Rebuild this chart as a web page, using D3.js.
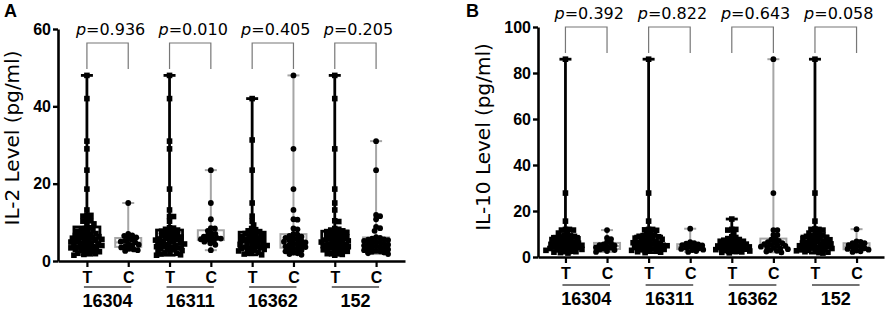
<!DOCTYPE html>
<html>
<head>
<meta charset="utf-8">
<script src="https://cdn.jsdelivr.net/npm/d3@7/dist/d3.min.js"></script>
<style>
  body { margin: 0; background: #fff; }
  svg { display: block; font-family: "Liberation Sans", Arial, sans-serif; }
</style>
</head>
<body>
<div id="chart"></div>
<script>
// groups on the x axis, each has a T and a C column
var groups = ["16304", "16311", "16362", "152"];
var arms = ["T", "C"];

// IL-2 (pg/ml), panel A
var il2_16304_T = [48, 42, 31, 29, 23.5, 18.6, 13.2, 11.8, 11.8, 11.6, 10.5, 10.4, 10.3, 9.6, 9.4, 8.6, 8.4, 8.2, 7.9, 7.7, 7.5, 7.3, 7.1, 6.9, 6.8, 6.6, 6.4, 6.3, 6.1, 6, 5.9, 5.7, 5.6, 5.4, 5.3, 5.1, 5, 4.9, 4.7, 4.6, 4.4, 4.3, 4.1, 4, 3.9, 3.7, 3.6, 3.4, 3.3, 3.1, 3, 2.9, 2.7, 2.5, 2.4, 2.2, 2, 1.9, 1.7, 1.5];
var il2_16304_C = [15, 7, 6.6, 6.5, 6.1, 5.8, 5.5, 5.2, 5, 4.8, 4.5, 4.2, 4, 3.8, 3.5, 3.2, 3, 2.8, 2.6];
var il2_16311_T = [48, 42, 31, 29, 18.6, 13.2, 11.5, 11.5, 10.3, 8.6, 8.5, 8.2, 8, 7.7, 7.5, 7.2, 7, 6.8, 6.6, 6.4, 6.2, 6, 5.9, 5.7, 5.5, 5.4, 5.2, 5, 4.9, 4.7, 4.5, 4.4, 4.2, 4, 3.9, 3.7, 3.5, 3.4, 3.2, 3, 2.9, 2.7, 2.5, 2.3, 2.1, 2, 1.8, 1.6, 1.5];
var il2_16311_C = [23.5, 15, 10.8, 8.5, 8.4, 7.8, 7.2, 7, 6.6, 6.3, 6.1, 6, 5.8, 5.6, 5.5, 5.2, 5, 4.6, 4.2, 2.8];
var il2_16362_T = [42, 31.3, 23.5, 15, 11.6, 10.3, 9.3, 8.4, 8.1, 7.8, 7.6, 7.3, 7.1, 6.9, 6.7, 6.5, 6.3, 6.1, 5.9, 5.7, 5.5, 5.3, 5.2, 5, 4.8, 4.6, 4.5, 4.3, 4.1, 4, 3.8, 3.6, 3.5, 3.3, 3.1, 3, 2.8, 2.6, 2.4, 2.2, 2, 1.8, 1.6];
var il2_16362_C = [48, 29, 18.6, 13.2, 10.8, 10.7, 8.4, 8.2, 7, 6.8, 6.5, 6.3, 6, 5.8, 5.6, 5.4, 5.2, 5, 4.8, 4.6, 4.4, 4.2, 4, 3.8, 3.6, 3.4, 3.2, 3, 2.8, 2.5, 2.2, 2, 1.8, 1.6];
var il2_152_T = [48, 42, 29, 18.6, 15, 13.2, 10.4, 10.2, 8.4, 8.2, 8, 7.8, 7.6, 7.4, 7.2, 7, 6.8, 6.6, 6.4, 6.2, 6, 5.9, 5.7, 5.5, 5.4, 5.2, 5, 4.9, 4.7, 4.5, 4.4, 4.2, 4, 3.9, 3.7, 3.5, 3.4, 3.2, 3, 2.9, 2.7, 2.5, 2.3, 2.1, 1.9, 1.7, 1.5];
var il2_152_C = [31, 23.5, 11.9, 11.6, 10.8, 8.8, 8.5, 7.8, 6.2, 6, 5.8, 5.6, 5.5, 5.4, 5.2, 5, 4.8, 4.6, 4.5, 4.3, 4.2, 4, 3.8, 3.6, 3.5, 3.4, 3.2, 3, 2.8, 2.6, 2.5, 2.4, 2.2, 2, 1.8];

// IL-10 (pg/ml), panel B
var il10_16304_T = [86, 27.8, 15.6, 12, 12, 11.7, 11.7, 10.4, 10.4, 9.5, 9.2, 9, 8.7, 8.4, 8.2, 7.9, 7.6, 7.4, 7.1, 6.9, 6.6, 6.4, 6.2, 6, 5.7, 5.5, 5.3, 5.1, 4.9, 4.7, 4.5, 4.3, 4.1, 3.9, 3.7, 3.5, 3.3, 3.1, 2.9, 2.7, 2.5, 2.3, 2.1, 1.9, 1.7];
var il10_16304_C = [11.7, 8.3, 7.8, 6.5, 6, 5.5, 5.2, 5, 4.5, 4.2, 4, 3.6, 3.2, 3, 2.6, 2.2];
var il10_16311_T = [86, 27.8, 15.6, 12, 12, 11.8, 11.6, 10.4, 10.2, 9.6, 9.3, 9, 8.8, 8.5, 8.2, 8, 7.7, 7.4, 7.2, 6.9, 6.7, 6.4, 6.2, 6, 5.7, 5.5, 5.3, 5.1, 4.9, 4.7, 4.5, 4.3, 4.1, 3.9, 3.7, 3.5, 3.3, 3.1, 2.9, 2.7, 2.5, 2.3, 2.1, 1.9];
var il10_16311_C = [12.3, 6.5, 6, 5.8, 5.5, 5.2, 5, 4.6, 4.3, 4, 3.8, 3.5, 3.2, 3, 2.6, 2.2];
var il10_16362_T = [16.5, 12, 12, 11.7, 10.4, 8.8, 8.5, 8, 7.6, 7.3, 7, 6.7, 6.4, 6.1, 5.9, 5.6, 5.4, 5.2, 5, 4.8, 4.6, 4.4, 4.2, 4, 3.8, 3.6, 3.4, 3.2, 3, 2.8, 2.6, 2.4, 2.2, 2, 1.8];
var il10_16362_C = [86, 27.8, 11.7, 11.7, 9.6, 9.6, 8, 7.5, 7, 6.5, 6.2, 6, 5.6, 5.3, 5, 4.8, 4.5, 4.2, 4, 3.7, 3.4, 3, 2.7, 2.4, 2];
var il10_152_T = [86, 27.8, 15.6, 12.2, 12, 12, 11.7, 10.4, 10.4, 10.2, 9.5, 9.2, 9, 8.7, 8.5, 8.2, 8, 7.7, 7.5, 7.2, 7, 6.8, 6.5, 6.3, 6.1, 5.9, 5.7, 5.5, 5.3, 5.1, 4.9, 4.7, 4.5, 4.3, 4.1, 3.9, 3.7, 3.5, 3.3, 3.1, 2.9, 2.7, 2.5, 2.3, 2.1, 1.9, 1.7];
var il10_152_C = [12.1, 6.8, 6.6, 6, 6, 5.2, 4.8, 4.5, 4.2, 3.8, 3.5, 3.2, 2.8, 2.5, 2.2];

var il2_p = ["0.936", "0.010", "0.405", "0.205"];
var il10_p = ["0.392", "0.822", "0.643", "0.058"];
var il2_ticks = [0, 20, 40, 60];
var il10_ticks = [0, 20, 40, 60, 80, 100];

var wideFont = "DejaVu Sans";

var svg = d3.select("#chart").append("svg")
    .attr("width", 886)
    .attr("height", 310);

function swarm(vals, y, d) {
    // simple beeswarm: push each point sideways until it clears the ones placed before
    var placed = [];
    return vals.map(function(v) {
        var py = y(v), off = 0;
        for (var k = 0; k < 400; k++) {
            off = (k % 2 ? 1 : -1) * Math.ceil(k / 2) * 0.5;
            var hit = placed.some(function(p) {
                return (p[0] - off) * (p[0] - off) + (p[1] - py) * (p[1] - py) < d * d;
            });
            if (!hit) break;
        }
        placed.push([off, py]);
        return [off, py];
    });
}

function panel(opt) {
    var g = svg.append("g");

    var keys = [];
    groups.forEach(function(gr) { arms.forEach(function(a) { keys.push(gr + "|" + a); }); });

    var x = d3.scalePoint().domain(keys).range(opt.xr).padding(opt.pad);
    var y = d3.scaleLinear().domain(opt.dom).range(opt.yr);

    // y axis (tick labels written separately below)
    var ya = g.append("g")
        .attr("transform", "translate(" + opt.xr[0] + ",0)")
        .call(d3.axisLeft(y).tickValues(opt.ticks).tickSize(5).tickSizeOuter(0).tickFormat(""));
    ya.select(".domain").attr("stroke-width", 2.6);
    ya.selectAll(".tick line").attr("stroke-width", 2.4);

    g.selectAll("text.ylab").data(opt.ticks).enter().append("text")
        .attr("class", "ylab")
        .attr("x", opt.xr[0] - 7)
        .attr("y", function(v) { return y(v); })
        .attr("dy", "0.36em")
        .attr("text-anchor", "end")
        .attr("font-family", "Liberation Sans")
        .attr("font-size", 16)
        .attr("font-weight", "bold")
        .text(function(v) { return v; });

    // x axis
    var xa = g.append("g")
        .attr("transform", "translate(0," + opt.yr[0] + ")")
        .call(d3.axisBottom(x).tickSize(6).tickSizeOuter(0).tickPadding(5)
            .tickFormat(function(k) { return k.split("|")[1]; }));
    xa.attr("font-size", 16).attr("font-weight", "bold").attr("font-family", "Liberation Sans");
    xa.select(".domain").attr("stroke-width", 2.6);
    xa.selectAll(".tick line").attr("stroke-width", 2.2);

    // group underline + name
    groups.forEach(function(gr, i) {
        var x0 = x(gr + "|T"), x1 = x(gr + "|C");
        g.append("line")
            .attr("x1", x0 - 3).attr("x2", x1 + 3)
            .attr("y1", opt.yr[0] + opt.uline).attr("y2", opt.yr[0] + opt.uline)
            .attr("stroke", "#444").attr("stroke-width", 1.4);
        g.append("text")
            .attr("x", (x0 + x1) / 2)
            .attr("y", opt.yr[0] + opt.glab)
            .attr("text-anchor", "middle")
            .attr("font-size", 18).attr("font-weight", "bold")
            .text(gr);

        // p-value bracket
        g.append("path")
            .attr("d", "M" + x0 + "," + opt.br[1] + "V" + opt.br[0] + "H" + x1 + "V" + opt.br[1])
            .attr("fill", "none").attr("stroke", "#777").attr("stroke-width", 1.2);
        var t = g.append("text")
            .attr("x", (x0 + x1) / 2 + 3)
            .attr("y", opt.pY)
            .attr("text-anchor", "middle")
            .attr("font-family", wideFont)
            .attr("font-size", 16);
        t.append("tspan").attr("font-style", "italic").text("p");
        t.append("tspan").text("=" + opt.p[i]);
    });

    // columns
    opt.data.forEach(function(vals, j) {
        var key = keys[j], arm = key.split("|")[1];
        var cx = x(key);
        var col = arm === "T" ? "#000" : "#a6a6a6";
        var lw = arm === "T" ? 2.8 : 2;
        var s = vals.slice().sort(d3.ascending);
        var q1 = d3.quantile(s, 0.25), q2 = d3.quantile(s, 0.5), q3 = d3.quantile(s, 0.75);
        var lo = s[0], hi = s[s.length - 1];

        var c = g.append("g");
        c.append("line").attr("x1", cx).attr("x2", cx).attr("y1", y(lo)).attr("y2", y(hi))
            .attr("stroke", col).attr("stroke-width", lw);
        [lo, hi].forEach(function(v) {
            c.append("line").attr("x1", cx - 6).attr("x2", cx + 6).attr("y1", y(v)).attr("y2", y(v))
                .attr("stroke", col).attr("stroke-width", lw);
        });
        c.append("rect").attr("x", cx - 13).attr("width", 26)
            .attr("y", y(q3)).attr("height", y(q1) - y(q3))
            .attr("fill", "none").attr("stroke", col).attr("stroke-width", lw);
        c.append("line").attr("x1", cx - 13).attr("x2", cx + 13).attr("y1", y(q2)).attr("y2", y(q2))
            .attr("stroke", col).attr("stroke-width", lw);

        var pts = swarm(vals, y, 4);
        if (arm === "T") {
            c.selectAll("rect.pt").data(pts).enter().append("rect")
                .attr("class", "pt")
                .attr("x", function(p) { return cx + p[0] - 2.8; })
                .attr("y", function(p) { return p[1] - 2.8; })
                .attr("width", 5.6).attr("height", 5.6)
                .attr("fill", "#000");
        } else {
            c.selectAll("circle").data(pts).enter().append("circle")
                .attr("cx", function(p) { return cx + p[0]; })
                .attr("cy", function(p) { return p[1]; })
                .attr("r", 2.9)
                .attr("fill", "#000");
        }
    });

    // y title
    g.append("text")
        .attr("transform", "translate(" + opt.titleX + "," + opt.titleY + ") rotate(-90)")
        .attr("text-anchor", "middle")
        .attr("font-family", wideFont)
        .attr("font-size", 20)
        .text(opt.title);

    // panel letter
    g.append("text")
        .attr("x", opt.letterX).attr("y", 17)
        .attr("font-size", 18).attr("font-weight", "bold")
        .text(opt.letter);
}

panel({
    letter: "A", letterX: 4,
    title: "IL-2 Level (pg/ml)", titleX: 19, titleY: 138,
    xr: [58, 405], pad: 0.7,
    dom: [0, 60], yr: [261, 29], ticks: il2_ticks,
    uline: 26, glab: 46,
    br: [43, 69], pY: 35, p: il2_p,
    data: [il2_16304_T, il2_16304_C, il2_16311_T, il2_16311_C, il2_16362_T, il2_16362_C, il2_152_T, il2_152_C]
});

panel({
    letter: "B", letterX: 466,
    title: "IL-10 Level (pg/ml)", titleX: 490, titleY: 137,
    xr: [538, 884], pad: 0.66,
    dom: [0, 100], yr: [257, 27], ticks: il10_ticks,
    uline: 28, glab: 48,
    br: [27, 53], pY: 19, p: il10_p,
    data: [il10_16304_T, il10_16304_C, il10_16311_T, il10_16311_C, il10_16362_T, il10_16362_C, il10_152_T, il10_152_C]
});
</script>
</body>
</html>
